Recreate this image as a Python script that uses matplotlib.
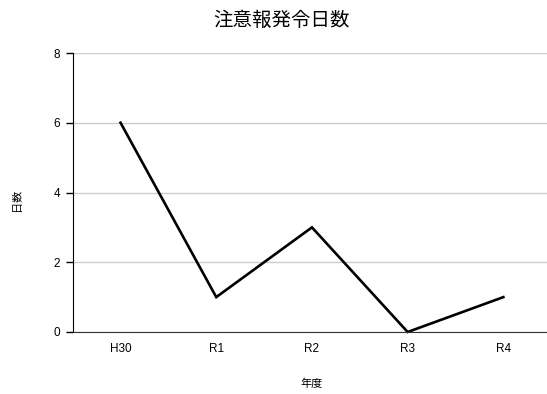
import matplotlib
matplotlib.use('Agg')
import matplotlib.pyplot as plt

plt.rcParams['font.family'] = ['Liberation Sans', 'Noto Sans CJK JP', 'DejaVu Sans']

years = ['H30', 'R1', 'R2', 'R3', 'R4']
days = [6, 1, 3, 0, 1]
y_ticks = [0, 2, 4, 6, 8]

W, H = 547, 394
fig = plt.figure(figsize=(W / 100, H / 100), dpi=100)

# axes box in pixels: left 72.7, right 551 (runs past the edge), top 53, bottom 332
left, right, top, bottom = 72.7, 551.2, 53, 332
ax = fig.add_axes([left / W, 1 - bottom / H, (right - left) / W, (bottom - top) / H])

x = list(range(len(years)))
ax.plot(x, days, color='black', linewidth=1.9, solid_joinstyle='miter', clip_on=False)

ax.set_xlim(-0.5, len(years) - 0.5)
ax.set_ylim(0, 8)
ax.set_xticks(x)
ax.set_xticklabels(years)
ax.set_yticks(y_ticks)

ax.grid(axis='y', color='#cccccc', linewidth=1)
ax.set_axisbelow(True)
for s in ['top', 'right']:
    ax.spines[s].set_visible(False)
ax.spines['left'].set_color('black')
ax.spines['bottom'].set_color('#333333')

ax.tick_params(axis='y', length=5, width=1, labelsize=8.5, pad=4)
ax.tick_params(axis='x', length=0, labelsize=8.5, pad=8)

fig.text(282 / W, 1 - 20 / H, '注意報発令日数', ha='center', va='center',
         fontsize=14, family=['Noto Sans CJK JP'])
fig.text(17 / W, 1 - 200 / H, '日数', ha='center', va='center', rotation=90,
         fontsize=8, family=['Noto Sans CJK JP'])
fig.text(312 / W, 1 - 384 / H, '年度', ha='center', va='center',
         fontsize=8, family=['Noto Sans CJK JP'])

fig.savefig('out.png', dpi=100)
